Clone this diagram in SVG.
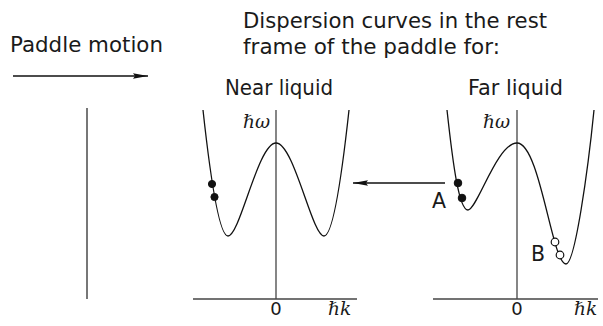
<svg xmlns="http://www.w3.org/2000/svg" width="603" height="326" viewBox="0 0 603 326">
<style>
.t{font-family:"DejaVu Sans","Liberation Sans",sans-serif;font-size:20.5px;fill:#1a1a1a}
.m{font-family:"DejaVu Serif","Liberation Serif",serif;font-style:italic;font-size:18.5px;fill:#1a1a1a}
.z{font-family:"DejaVu Sans","Liberation Sans",sans-serif;font-size:18px;fill:#1a1a1a}
.ax{stroke:#444;stroke-width:1.3;fill:none}
.cv{stroke:#111;stroke-width:1.3;fill:none}
.ar{stroke:#111;stroke-width:1.5;fill:none}
.fd{fill:#111;stroke:#111;stroke-width:1}
.od{fill:#fff;stroke:#111;stroke-width:1.2}
</style>
<defs>
<marker id="ah" markerWidth="16" markerHeight="8" refX="15" refY="4" orient="auto" markerUnits="userSpaceOnUse">
<path d="M0,1.2 L15,4 L0,6.8 L2,4 Z" fill="#111"/>
</marker>
</defs>
<rect width="603" height="326" fill="#fff"/>
<g id="labels">
<text class="t" x="10" y="52" textLength="153" lengthAdjust="spacingAndGlyphs">Paddle motion</text>
<text class="t" x="243" y="28" textLength="304" lengthAdjust="spacingAndGlyphs">Dispersion curves in the rest</text>
<text class="t" x="243" y="54" textLength="257" lengthAdjust="spacingAndGlyphs">frame of the paddle for:</text>
</g>
<g id="paddle">
<line x1="87" y1="108" x2="87" y2="299" stroke="#555" stroke-width="1.6"/>
</g>
<g id="near-liquid">
<text class="t" x="225" y="95" textLength="108" lengthAdjust="spacingAndGlyphs">Near liquid</text>
<line class="ax" x1="276" y1="110" x2="276" y2="299"/>
<line class="ax" x1="193" y1="299" x2="357" y2="299"/>
<path class="cv" d="M203,110 C209,165 218,236 228,236 C240,236 258,143 276,143 C294,143 312,236 324,236 C334,236 343,165 349,110"/>
<circle class="fd" cx="212" cy="184" r="3.6"/>
<circle class="fd" cx="214.5" cy="197" r="3.6"/>
<text class="m" x="243" y="128">ℏω</text>
<text class="z" x="276" y="315" text-anchor="middle">0</text>
<text class="m" x="328" y="315">ℏk</text>
</g>
<g id="far-liquid">
<text class="t" x="468" y="95" textLength="95" lengthAdjust="spacingAndGlyphs">Far liquid</text>
<line class="ax" x1="517" y1="110" x2="517" y2="299"/>
<line class="ax" x1="433" y1="299" x2="598" y2="299"/>
<path class="cv" d="M447,110 C453,165 459,210 468,210 C477,210 497,143 517,143 C540,143 552,264 566,264 C575,264 588,170 594,110"/>
<circle class="fd" cx="458" cy="183" r="3.8"/>
<circle class="fd" cx="462" cy="198" r="3.8"/>
<circle class="od" cx="555" cy="242" r="3.8"/>
<circle class="od" cx="560" cy="255" r="3.8"/>
<text class="t" x="432" y="208">A</text>
<text class="t" x="531" y="261">B</text>
<text class="m" x="483" y="128">ℏω</text>
<text class="z" x="517" y="315" text-anchor="middle">0</text>
<text class="m" x="574" y="315">ℏk</text>
</g>
<g id="connectors">
<line class="ar" x1="13" y1="76" x2="148" y2="76" marker-end="url(#ah)"/>
<line class="ar" x1="445" y1="183" x2="353" y2="183" marker-end="url(#ah)"/>
</g>
</svg>
